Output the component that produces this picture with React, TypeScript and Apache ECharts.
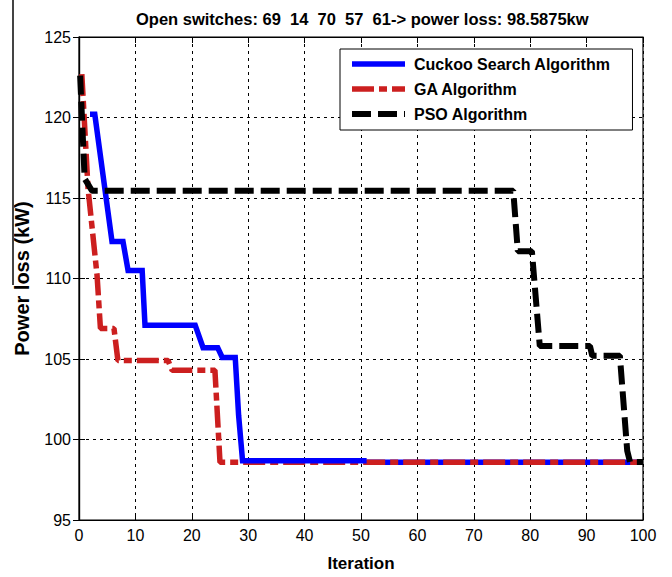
import React, { useEffect, useRef } from "react";
import * as echarts from "echarts";

const titleText = "Open switches: 69  14  70  57  61-> power loss: 98.5875kw";
const xTicks = [0, 10, 20, 30, 40, 50, 60, 70, 80, 90, 100];
const yTicks = [95, 100, 105, 110, 115, 120, 125];

const seriesNames = ["Cuckoo Search Algorithm", "GA Algorithm", "PSO Algorithm"];

// Cuckoo Search (blue)
const csIter = [1.95, 2.8, 5.85, 7.8, 8.7, 11.2, 11.7, 20.6, 22, 24.6, 25.4, 27.7, 28.3, 29, 51];
const csLoss = [120.2, 120.2, 112.3, 112.3, 110.5, 110.5, 107.1, 107.1, 105.7, 105.7, 105.1, 105.1, 101.5, 98.68, 98.68];
const csTailIter = [51, 100];
const csTailLoss = [98.58, 98.58];

// GA (red)
const gaIter = [0.5, 1.6, 3.2, 3.8, 6.2, 6.9, 15.8, 16.5, 24.1, 25, 100];
const gaLoss = [122.7, 115.6, 110.2, 106.9, 106.9, 104.9, 104.9, 104.3, 104.3, 98.58, 98.58];

// PSO (black)
const psoIter = [0.2, 1.0, 2.3, 77, 77.8, 80.3, 81.7, 90.6, 91, 95.9, 97.2, 97.7, 100];
const psoLoss = [122.6, 116.2, 115.45, 115.45, 111.7, 111.7, 105.8, 105.8, 105.2, 105.2, 99.3, 98.6, 98.6];

const zip = (a: number[], b: number[]) => a.map((v, i) => [v, b[i]]);

const FONT = "Liberation Sans, Arial, sans-serif";
const BLUE = "#0000ff";
const RED = "#cc1f1f";
const BLUE_STYLE = { color: BLUE, width: 5.5, type: "solid" as any, cap: "butt" as any };
const RED_STYLE = { color: RED, width: 5.5, type: [22, 5, 8, 5] as any, cap: "butt" as any };
const BLACK_STYLE = { color: "#000", width: 6, type: [19, 7] as any, cap: "butt" as any };

export default function App() {
  const ref = useRef<HTMLDivElement>(null);
  useEffect(() => {
    if (!ref.current) return;
    const chart = echarts.init(ref.current, undefined, { renderer: "svg" });
    const gridLine = { show: true, lineStyle: { color: "#000", width: 1, type: [3, 4] as any } };
    chart.setOption({
      animation: false,
      backgroundColor: "#fff",
      title: {
        text: titleText,
        left: 131,
        top: 5,
        textStyle: { fontFamily: FONT, fontWeight: "bold", fontSize: 16.5, color: "#000" },
      },
      grid: { left: 79, top: 37, right: 29, bottom: 54, show: true, borderColor: "#000", borderWidth: 1.2 },
      legend: {
        data: [
          { name: seriesNames[0], lineStyle: BLUE_STYLE, itemStyle: { opacity: 0 } },
          { name: seriesNames[1], lineStyle: RED_STYLE, itemStyle: { opacity: 0 } },
          { name: seriesNames[2], lineStyle: BLACK_STYLE, itemStyle: { opacity: 0 } },
        ],
        orient: "vertical",
        left: 340,
        top: 49,
        padding: [7, 22, 8, 9],
        itemGap: 9,
        itemWidth: 53,
        itemHeight: 18,
        backgroundColor: "#fff",
        borderColor: "#000",
        borderWidth: 1,
        itemStyle: { opacity: 0 },
        textStyle: { fontFamily: FONT, fontWeight: "bold", fontSize: 16, color: "#000", padding: [0, 0, 0, 4] },
      },
      xAxis: [
        {
          type: "value",
          min: 0,
          max: 100,
          interval: 10,
          name: "Iteration",
          nameLocation: "middle",
          nameGap: 35,
          nameTextStyle: { fontFamily: FONT, fontWeight: "bold", fontSize: 17, color: "#000" },
          axisLine: { show: true, lineStyle: { color: "#000", width: 1.2 } },
          axisTick: { show: true, inside: true, length: 6, lineStyle: { color: "#000" } },
          axisLabel: { fontFamily: FONT, fontSize: 16, color: "#000", margin: 7, formatter: (v: number) => (xTicks.includes(v) ? String(v) : "") },
          splitLine: gridLine,
        },
        {
          type: "value",
          position: "top",
          min: 0,
          max: 100,
          interval: 10,
          axisLine: { show: true, lineStyle: { color: "#000", width: 1.2 } },
          axisTick: { show: true, inside: true, length: 6, lineStyle: { color: "#000" } },
          axisLabel: { show: false },
          splitLine: { show: false },
        },
      ],
      yAxis: [
        {
          type: "value",
          min: 95,
          max: 125,
          interval: 5,
          name: "Power loss (kW)",
          nameLocation: "middle",
          nameGap: 47,
          nameTextStyle: { fontFamily: FONT, fontWeight: "bold", fontSize: 20, color: "#000" },
          axisLine: { show: true, lineStyle: { color: "#000", width: 1.2 } },
          axisTick: { show: true, inside: true, length: 6, lineStyle: { color: "#000" } },
          axisLabel: { fontFamily: FONT, fontSize: 16, color: "#000", margin: 8, formatter: (v: number) => (yTicks.includes(v) ? String(v) : "") },
          splitLine: gridLine,
        },
        {
          type: "value",
          position: "right",
          min: 95,
          max: 125,
          interval: 5,
          axisLine: { show: true, lineStyle: { color: "#000", width: 1.2 } },
          axisTick: { show: true, inside: true, length: 6, lineStyle: { color: "#000" } },
          axisLabel: { show: false },
          splitLine: { show: false },
        },
      ],
      series: [
        {
          name: seriesNames[0],
          type: "line",
          data: zip(csIter, csLoss),
          showSymbol: false,
          symbol: "none",
          z: 4,
          color: BLUE,
          lineStyle: { ...BLUE_STYLE, join: "miter" },
        },
        {
          name: "cs-tail",
          type: "line",
          data: zip(csTailIter, csTailLoss),
          showSymbol: false,
          symbol: "none",
          z: 2,
          color: BLUE,
          lineStyle: BLUE_STYLE,
        },
        {
          name: seriesNames[1],
          type: "line",
          data: zip(gaIter, gaLoss),
          showSymbol: false,
          symbol: "none",
          z: 3,
          color: RED,
          lineStyle: RED_STYLE,
        },
        {
          name: seriesNames[2],
          type: "line",
          data: zip(psoIter, psoLoss),
          showSymbol: false,
          symbol: "none",
          z: 5,
          color: "#000",
          lineStyle: BLACK_STYLE,
        },
      ],
    });
    return () => chart.dispose();
  }, []);
  return (
    <div style={{ position: "absolute", left: 0, top: 0, width: 672, height: 577 }}>
      <div ref={ref} style={{ width: 672, height: 577, position: "absolute", left: 0, top: 0 }} />
      <div style={{ position: "absolute", left: 12, top: 0, width: 2, height: 285, background: "#444", zIndex: 10 }} />
    </div>
  );
}
